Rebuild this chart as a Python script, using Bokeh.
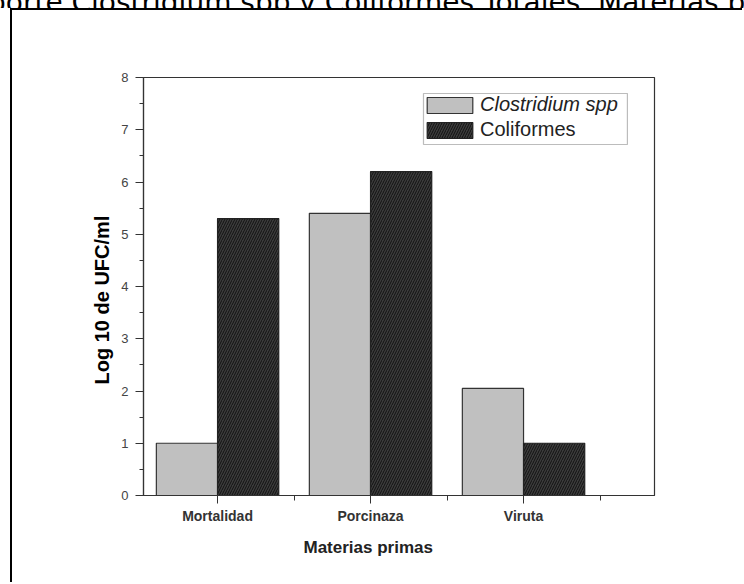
from bokeh.plotting import figure
from bokeh.models import (Range1d, FixedTicker, Legend, LegendItem, BoxAnnotation,
                          Title, Div, ColumnDataSource)
from bokeh.layouts import column
from bokeh.transform import dodge
from bokeh.embed import file_html
from bokeh.resources import INLINE
import numpy as np

# ---------------- data ----------------
categories = ["Mortalidad", "Porcinaza", "Viruta"]
clostridium = [1.0, 5.4, 2.05]
coliformes = [5.3, 6.2, 1.0]
series_names = ["Clostridium spp", "Coliformes"]
y_ticks = [0, 1, 2, 3, 4, 5, 6, 7, 8]
y_minor = [0.5, 1.5, 2.5, 3.5, 4.5, 5.5, 6.5, 7.5]
x_title = "Materias primas"
y_title = "Log 10 de UFC/ml"
page_title = "porte Clostridium spp y Coliformes Totales. Materias p"

xpos = np.arange(1, len(categories) + 1)
bar_w = 0.4
src = ColumnDataSource(dict(x=xpos, cat=categories, clo=clostridium, col=coliformes))

FONT = "Liberation Sans"

p = figure(width=732, height=574, output_backend="svg", toolbar_location=None,
           x_range=Range1d(0.516, 3.856), y_range=Range1d(0, 8),
           min_border_left=131, min_border_right=90,
           min_border_top=67, min_border_bottom=89,
           background_fill_color="white", border_fill_color="white")
p.margin = (0, 0, 0, 10)
p.styles = {"border-top": "2px solid black", "border-left": "2px solid black"}
p.title.visible = False
p.xgrid.visible = False
p.ygrid.visible = False
p.outline_line_color = "#333333"
p.outline_line_width = 1.2

r1 = p.vbar(x=dodge("x", -bar_w / 2), top="clo", width=bar_w, source=src,
            fill_color="#c0c0c0", line_color="#333333", line_width=1.2)
r2 = p.vbar(x=dodge("x", bar_w / 2), top="col", width=bar_w, source=src,
            fill_color="#3c3c3c", line_color="#222222", line_width=1.2,
            hatch_pattern="/", hatch_color="#111111", hatch_scale=5, hatch_weight=1)

# y axis
ya = p.yaxis[0]
ya.ticker = FixedTicker(ticks=y_ticks, minor_ticks=y_minor)
ya.major_tick_out = 8
ya.major_tick_in = 0
ya.minor_tick_out = 4
ya.minor_tick_in = 0
ya.axis_line_color = "#333333"
ya.major_tick_line_color = "#333333"
ya.minor_tick_line_color = "#333333"
ya.axis_line_width = 1.2
ya.major_label_text_font = FONT
ya.major_label_text_font_size = "13px"
ya.major_label_text_color = "#444444"
ya.major_label_standoff = 7

# x axis
xa = p.xaxis[0]
xa.ticker = FixedTicker(ticks=[float(v) for v in xpos],
                        minor_ticks=[float(v) - 0.5 for v in xpos] + [float(xpos[-1]) + 0.5])
xa.major_label_overrides = {float(v): c for v, c in zip(xpos, categories)}
xa.major_tick_out = 8
xa.major_tick_in = 0
xa.minor_tick_out = 5
xa.minor_tick_in = 0
xa.axis_line_color = "#333333"
xa.major_tick_line_color = "#333333"
xa.minor_tick_line_color = "#333333"
xa.axis_line_width = 1.2
xa.major_label_text_font = FONT
xa.major_label_text_font_style = "bold"
xa.major_label_text_font_size = "14px"
xa.major_label_text_color = "#333333"
xa.major_label_standoff = 4

# axis titles as offset titles
tx = Title(text=x_title, align="left", offset=160, text_font=FONT,
           text_font_style="bold", text_font_size="17px", text_color="#222222",
           standoff=18)
p.add_layout(tx, "below")
ty = Title(text=y_title, align="left", offset=111, text_font=FONT,
           text_font_style="bold", text_font_size="20px", text_color="black",
           standoff=11)
p.add_layout(ty, "left")

# legend box
box = BoxAnnotation(left=2.346, right=3.679, top=7.694, bottom=6.718,
                    fill_color="white", fill_alpha=1.0,
                    line_color="#222222", line_width=1.2, level="overlay")
p.add_layout(box)

common = dict(glyph_width=57, glyph_height=20, label_standoff=2, padding=0,
              margin=0, spacing=0, label_height=20,
              label_text_font=FONT, label_text_font_size="20px",
              label_text_color="#222222",
              border_line_alpha=0, background_fill_alpha=0)
leg1 = Legend(items=[LegendItem(label=series_names[0], renderers=[r1])],
              location=(278, 379), label_text_font_style="italic", **common)
leg2 = Legend(items=[LegendItem(label=series_names[1], renderers=[r2])],
              location=(278, 354), label_text_font_style="normal", **common)
p.add_layout(leg1)
p.add_layout(leg2)

# cropped caption above the framed figure
head = Div(
    text=('<div style="font-family:\'DejaVu Sans\';font-size:28px;line-height:28px;'
          'white-space:nowrap;margin-top:-19px;margin-left:-12px;color:black">'
          + page_title + '</div>'),
    width=744, height=8, margin=0,
    styles={"overflow": "hidden"})

layout = column(head, p, spacing=0)
open("out.html", "w").write(file_html(layout, INLINE))
